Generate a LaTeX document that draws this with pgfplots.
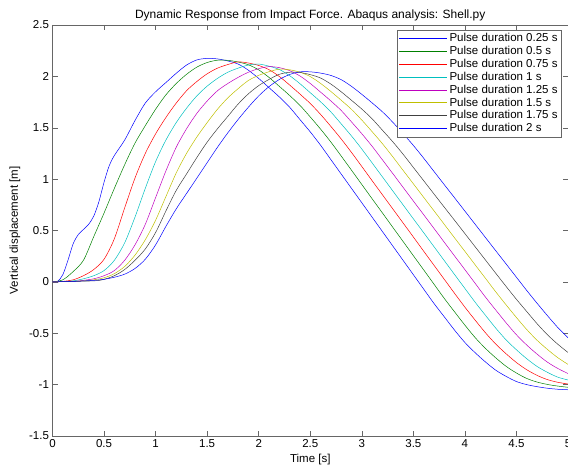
\documentclass[border=0pt]{standalone}
\usepackage{fontspec}
\setmainfont{Liberation Sans}
\usepackage{pgfplots}
\pgfplotsset{compat=1.18}
\definecolor{mgreen}{rgb}{0,0.5,0}
\definecolor{mcyan}{rgb}{0,0.75,0.75}
\definecolor{mmag}{rgb}{0.75,0,0.75}
\definecolor{myel}{rgb}{0.75,0.75,0}
\definecolor{mgray}{rgb}{0.25,0.25,0.25}
\pgfplotsset{
  legend image code/.code={\path (-9pt,0pt) -- (39pt,0pt); \draw[#1] (0pt,0pt) -- (35pt,0pt);},
}
\begin{document}
\begin{tikzpicture}
\begin{axis}[
  at={(0,0)}, anchor=south west,
  scale only axis, width=515.5pt, height=411pt,
  xmin=0, xmax=5, ymin=-1.5, ymax=2.5,
  xtick={0,0.5,...,5}, ytick={-1.5,-1,...,2.5},
  /pgf/number format/assume math mode=true,
  font=\fontsize{11.5}{13.5}\selectfont,
  tick label style={font=\fontsize{11.5}{13.5}\selectfont},
  tick align=inside, major tick length=5pt,
  xtick pos=both, ytick pos=both,
  axis line style={black!60}, every tick/.style={black!60},
  title={Dynamic Response from Impact Force. Abaqus analysis: Shell.py},
  title style={font=\fontsize{12}{14}\selectfont, yshift=-6pt},
  xlabel={Time [s]}, ylabel={Vertical displacement [m]},
  ylabel style={yshift=2pt},
  legend cell align=left,
  legend style={at={(rel axis cs:0.987,0.988)}, anchor=north east, draw=black!60, font=\fontsize{11.5}{13.5}\selectfont, row sep=-1pt, inner sep=1.5pt},
  every axis plot/.append style={line width=0.5pt, smooth},
]
\addplot[draw=blue] coordinates {(0,0)(0.05,0.005)(0.1,0.07)(0.15,0.21)(0.2,0.37)(0.25,0.46)(0.3,0.51)(0.35,0.56)(0.4,0.64)(0.45,0.78)(0.5,0.97)(0.55,1.13)(0.6,1.23)(0.7,1.38)(0.8,1.57)(0.9,1.74)(1.0,1.85)(1.1,1.94)(1.2,2.03)(1.3,2.11)(1.4,2.16)(1.5,2.175)(1.6,2.17)(1.7,2.15)(1.8,2.12)(1.9,2.06)(2.0,1.98)(2.1,1.89)(2.2,1.80)(2.3,1.70)(2.4,1.58)(2.5,1.46)(2.6,1.33)(2.7,1.19)(2.8,1.05)(2.9,0.91)(3.0,0.77)(3.1,0.63)(3.2,0.49)(3.3,0.35)(3.4,0.21)(3.5,0.07)(3.6,-0.07)(3.7,-0.21)(3.8,-0.34)(3.9,-0.47)(4.0,-0.59)(4.1,-0.69)(4.2,-0.78)(4.3,-0.86)(4.4,-0.92)(4.5,-0.97)(4.6,-1.0)(4.7,-1.02)(4.8,-1.035)(4.9,-1.045)(5.0,-1.05)};
\addlegendentry{Pulse duration 0.25 s}
\addplot[draw=mgreen] coordinates {(0,0)(0.1,0.02)(0.2,0.1)(0.3,0.21)(0.4,0.44)(0.5,0.67)(0.6,0.91)(0.7,1.14)(0.8,1.35)(0.9,1.52)(1.0,1.68)(1.1,1.82)(1.2,1.93)(1.3,2.02)(1.4,2.09)(1.5,2.135)(1.6,2.157)(1.7,2.156)(1.8,2.14)(1.9,2.113)(2.0,2.063)(2.1,1.99)(2.2,1.903)(2.3,1.814)(2.4,1.718)(2.5,1.605)(2.6,1.487)(2.7,1.361)(2.8,1.225)(2.9,1.087)(3.0,0.948)(3.1,0.809)(3.2,0.671)(3.3,0.532)(3.4,0.394)(3.5,0.255)(3.6,0.117)(3.7,-0.022)(3.8,-0.161)(3.9,-0.292)(4.0,-0.421)(4.1,-0.543)(4.2,-0.648)(4.3,-0.74)(4.4,-0.822)(4.5,-0.887)(4.6,-0.94)(4.7,-0.975)(4.8,-0.998)(4.9,-1.014)(5.0,-1.026)};
\addlegendentry{Pulse duration 0.5 s}
\addplot[draw=red] coordinates {(0,0)(0.1,0.005)(0.2,0.02)(0.3,0.06)(0.4,0.12)(0.5,0.22)(0.6,0.42)(0.7,0.72)(0.8,1.01)(0.9,1.25)(1.0,1.44)(1.1,1.60)(1.2,1.74)(1.3,1.86)(1.4,1.95)(1.5,2.025)(1.6,2.08)(1.7,2.115)(1.8,2.141)(1.9,2.13)(2.0,2.106)(2.1,2.065)(2.2,1.999)(2.3,1.916)(2.4,1.828)(2.5,1.736)(2.6,1.63)(2.7,1.513)(2.8,1.391)(2.9,1.26)(3.0,1.123)(3.1,0.985)(3.2,0.848)(3.3,0.711)(3.4,0.574)(3.5,0.437)(3.6,0.299)(3.7,0.162)(3.8,0.025)(3.9,-0.112)(4.0,-0.246)(4.1,-0.373)(4.2,-0.496)(4.3,-0.606)(4.4,-0.70)(4.5,-0.785)(4.6,-0.855)(4.7,-0.91)(4.8,-0.951)(4.9,-0.977)(5.0,-0.994)};
\addlegendentry{Pulse duration 0.75 s}
\addplot[draw=mcyan] coordinates {(0,0)(0.1,0.003)(0.2,0.01)(0.3,0.03)(0.4,0.06)(0.5,0.11)(0.6,0.21)(0.7,0.38)(0.8,0.63)(0.9,0.91)(1.0,1.17)(1.1,1.38)(1.2,1.55)(1.3,1.69)(1.4,1.81)(1.5,1.905)(1.6,1.98)(1.7,2.04)(1.8,2.08)(1.9,2.11)(2.0,2.12)(2.1,2.099)(2.2,2.067)(2.3,2.007)(2.4,1.929)(2.5,1.841)(2.6,1.753)(2.7,1.654)(2.8,1.538)(2.9,1.42)(3.0,1.293)(3.1,1.158)(3.2,1.022)(3.3,0.886)(3.4,0.75)(3.5,0.614)(3.6,0.479)(3.7,0.343)(3.8,0.207)(3.9,0.071)(4.0,-0.064)(4.1,-0.199)(4.2,-0.326)(4.3,-0.451)(4.4,-0.565)(4.5,-0.661)(4.6,-0.748)(4.7,-0.823)(4.8,-0.88)(4.9,-0.927)(5.0,-0.955)};
\addlegendentry{Pulse duration 1 s}
\addplot[draw=mmag] coordinates {(0,0)(0.2,0.005)(0.3,0.015)(0.4,0.03)(0.5,0.06)(0.6,0.11)(0.7,0.21)(0.8,0.36)(0.9,0.56)(1.0,0.82)(1.1,1.08)(1.2,1.31)(1.3,1.49)(1.4,1.64)(1.5,1.76)(1.6,1.86)(1.7,1.93)(1.8,1.99)(1.9,2.04)(2.0,2.075)(2.1,2.095)(2.2,2.085)(2.3,2.056)(2.4,2.004)(2.5,1.931)(2.6,1.847)(2.7,1.761)(2.8,1.668)(2.9,1.557)(3.0,1.442)(3.1,1.32)(3.2,1.188)(3.3,1.055)(3.4,0.921)(3.5,0.787)(3.6,0.654)(3.7,0.52)(3.8,0.386)(3.9,0.252)(4.0,0.119)(4.1,-0.015)(4.2,-0.149)(4.3,-0.275)(4.4,-0.399)(4.5,-0.515)(4.6,-0.615)(4.7,-0.703)(4.8,-0.781)(4.9,-0.842)(5.0,-0.892)};
\addlegendentry{Pulse duration 1.25 s}
\addplot[draw=myel] coordinates {(0,0)(0.3,0.01)(0.4,0.02)(0.5,0.04)(0.6,0.08)(0.7,0.15)(0.8,0.26)(0.9,0.41)(1.0,0.60)(1.1,0.83)(1.2,1.06)(1.3,1.25)(1.4,1.41)(1.5,1.55)(1.6,1.68)(1.7,1.79)(1.8,1.88)(1.9,1.96)(2.0,2.01)(2.1,2.045)(2.2,2.07)(2.3,2.064)(2.4,2.041)(2.5,1.998)(2.6,1.932)(2.7,1.853)(2.8,1.768)(2.9,1.679)(3.0,1.575)(3.1,1.462)(3.2,1.345)(3.3,1.218)(3.4,1.086)(3.5,0.955)(3.6,0.823)(3.7,0.692)(3.8,0.56)(3.9,0.428)(4.0,0.297)(4.1,0.165)(4.2,0.034)(4.3,-0.098)(4.4,-0.224)(4.5,-0.347)(4.6,-0.464)(4.7,-0.568)(4.8,-0.657)(4.9,-0.737)(5.0,-0.803)};
\addlegendentry{Pulse duration 1.5 s}
\addplot[draw=mgray] coordinates {(0,0)(0.4,0.01)(0.5,0.025)(0.6,0.06)(0.7,0.12)(0.8,0.21)(0.9,0.32)(1.0,0.48)(1.1,0.69)(1.2,0.89)(1.3,1.05)(1.4,1.21)(1.5,1.36)(1.6,1.49)(1.7,1.61)(1.8,1.73)(1.9,1.83)(2.0,1.91)(2.1,1.97)(2.2,2.02)(2.3,2.04)(2.4,2.038)(2.5,2.017)(2.6,1.984)(2.7,1.925)(2.8,1.85)(2.9,1.767)(3.0,1.682)(3.1,1.587)(3.2,1.476)(3.3,1.364)(3.4,1.243)(3.5,1.114)(3.6,0.985)(3.7,0.856)(3.8,0.727)(3.9,0.599)(4.0,0.47)(4.1,0.341)(4.2,0.212)(4.3,0.083)(4.4,-0.045)(4.5,-0.17)(4.6,-0.289)(4.7,-0.407)(4.8,-0.514)(4.9,-0.606)(5.0,-0.687)};
\addlegendentry{Pulse duration 1.75 s}
\addplot[draw=blue] coordinates {(0,0)(0.2,0.005)(0.4,0.015)(0.5,0.025)(0.6,0.045)(0.7,0.075)(0.8,0.13)(0.9,0.22)(1.0,0.36)(1.1,0.54)(1.2,0.71)(1.3,0.86)(1.4,1.01)(1.5,1.16)(1.6,1.31)(1.7,1.45)(1.8,1.58)(1.9,1.70)(2.0,1.81)(2.1,1.90)(2.2,1.97)(2.3,2.018)(2.4,2.044)(2.5,2.044)(2.6,2.032)(2.7,2.009)(2.8,1.968)(2.9,1.903)(3.0,1.825)(3.1,1.742)(3.2,1.655)(3.3,1.554)(3.4,1.443)(3.5,1.328)(3.6,1.204)(3.7,1.075)(3.8,0.946)(3.9,0.818)(4.0,0.689)(4.1,0.56)(4.2,0.431)(4.3,0.302)(4.4,0.174)(4.5,0.045)(4.6,-0.084)(4.7,-0.208)(4.8,-0.328)(4.9,-0.443)(5.0,-0.544)};
\addlegendentry{Pulse duration 2 s}
\end{axis}
\pgfresetboundingbox
\useasboundingbox (-52.5pt,-33pt) rectangle (515.5pt,436pt);
\end{tikzpicture}
\end{document}
